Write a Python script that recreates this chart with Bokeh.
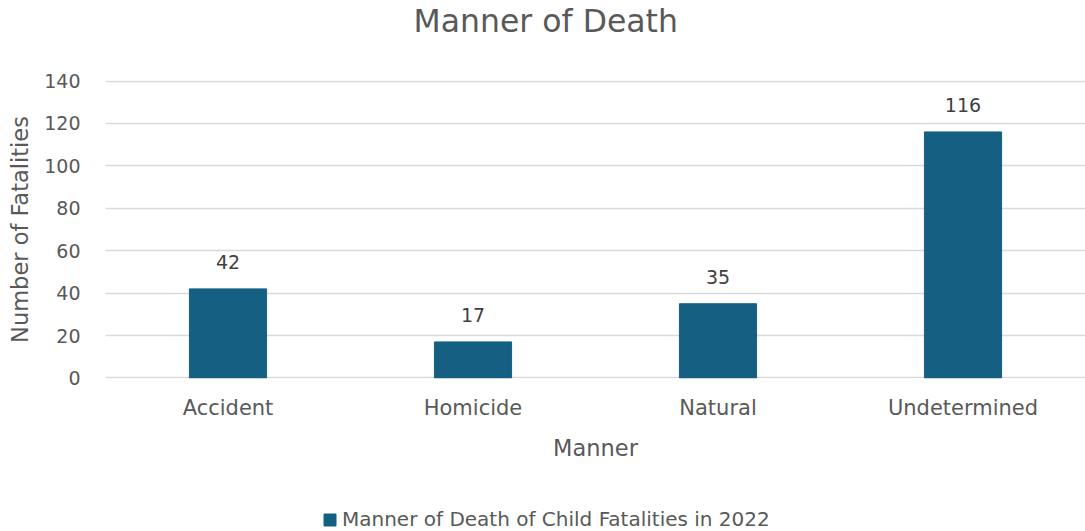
from bokeh.plotting import figure
from bokeh.layouts import column
from bokeh.models import Legend, LegendItem, ColumnDataSource, FixedTicker, Range1d
from bokeh.core.properties import value
from bokeh.embed import file_html
from bokeh.resources import INLINE

categories = ["Accident", "Homicide", "Natural", "Undetermined"]
counts = [42, 17, 35, 116]
labels = [str(c) for c in counts]
y_ticks = [0, 20, 40, 60, 80, 100, 120, 140]
series_name = "Manner of Death of Child Fatalities in 2022"
chart_title = "Manner of Death"

FONT = "DejaVu Sans"
TXT = "#595959"
BAR = "#156082"
GRID = "#d9d9d9"

src = ColumnDataSource(dict(cat=categories, val=counts, lab=labels))

# ---- title strip ----
p0 = figure(width=1085, height=68, output_backend="svg", toolbar_location=None,
            x_range=Range1d(0, 1), y_range=Range1d(0, 1),
            min_border_left=105, min_border_right=0, min_border_top=10, min_border_bottom=0)
p0.title.text = chart_title
p0.title.align = "left"
p0.title.offset = 308
p0.title.standoff = 0
p0.title.text_font = FONT
p0.title.text_font_size = "31.5px"
p0.title.text_font_style = "normal"
p0.title.text_color = TXT
p0.axis.visible = False
p0.grid.visible = False
p0.outline_line_color = None

# ---- main chart ----
p = figure(x_range=categories, y_range=Range1d(-0.25, 140.25), width=1085, height=410,
           output_backend="svg", toolbar_location=None,
           min_border_left=105, min_border_right=0, min_border_top=12, min_border_bottom=100)

r = p.vbar(x="cat", top="val", width=0.315, source=src, fill_color=BAR, line_color=BAR)
p.text(x="cat", y="val", text="lab", source=src, y_offset=-20, text_align="center",
       text_baseline="bottom", text_font=value(FONT), text_font_size="19px", text_color="#404040")

p.outline_line_color = None
p.background_fill_color = "white"
p.border_fill_color = "white"

p.xgrid.grid_line_color = None
p.ygrid.grid_line_color = GRID
p.ygrid.grid_line_width = 1.3

p.yaxis.ticker = FixedTicker(ticks=y_ticks)
p.yaxis.axis_line_color = None
p.yaxis.major_tick_line_color = None
p.yaxis.minor_tick_line_color = None
p.yaxis.major_label_text_font = FONT
p.yaxis.major_label_text_font_size = "19px"
p.yaxis.major_label_text_color = TXT
p.yaxis.major_label_standoff = 19
p.yaxis.axis_label = "Number of Fatalities"
p.yaxis.axis_label_text_font = FONT
p.yaxis.axis_label_text_font_size = "22.5px"
p.yaxis.axis_label_text_font_style = "normal"
p.yaxis.axis_label_text_color = TXT
p.yaxis.axis_label_standoff = 8

p.xaxis.axis_line_color = None
p.xaxis.major_tick_line_color = None
p.xaxis.minor_tick_line_color = None
p.xaxis.major_label_text_font = FONT
p.xaxis.major_label_text_font_size = "21px"
p.xaxis.major_label_text_color = TXT
p.xaxis.major_label_standoff = 11
p.xaxis.axis_label = "Manner"
p.xaxis.axis_label_text_font = FONT
p.xaxis.axis_label_text_font_size = "22.5px"
p.xaxis.axis_label_text_font_style = "normal"
p.xaxis.axis_label_text_color = TXT
p.xaxis.axis_label_standoff = 12

# ---- legend strip ----
p2 = figure(width=1085, height=53, output_backend="svg", toolbar_location=None,
            x_range=p.x_range, y_range=Range1d(1000, 1001),
            min_border_left=105, min_border_right=0, min_border_top=0, min_border_bottom=0)
p2.axis.visible = False
p2.grid.visible = False
p2.outline_line_color = None
r2 = p2.vbar(x="cat", top="val", source=src, width=0.315, fill_color=BAR, line_color=BAR)
legend = Legend(items=[LegendItem(label=series_name, renderers=[r2])],
                orientation="horizontal", location=(217, 0),
                label_text_font=FONT, label_text_font_size="20px", label_text_color=TXT,
                glyph_width=15, glyph_height=15, label_standoff=5,
                border_line_color=None, background_fill_alpha=0,
                margin=0, padding=0, spacing=0)
p2.add_layout(legend, "center")

open("out.html", "w").write(file_html(column(p0, p, p2, spacing=0), INLINE))
